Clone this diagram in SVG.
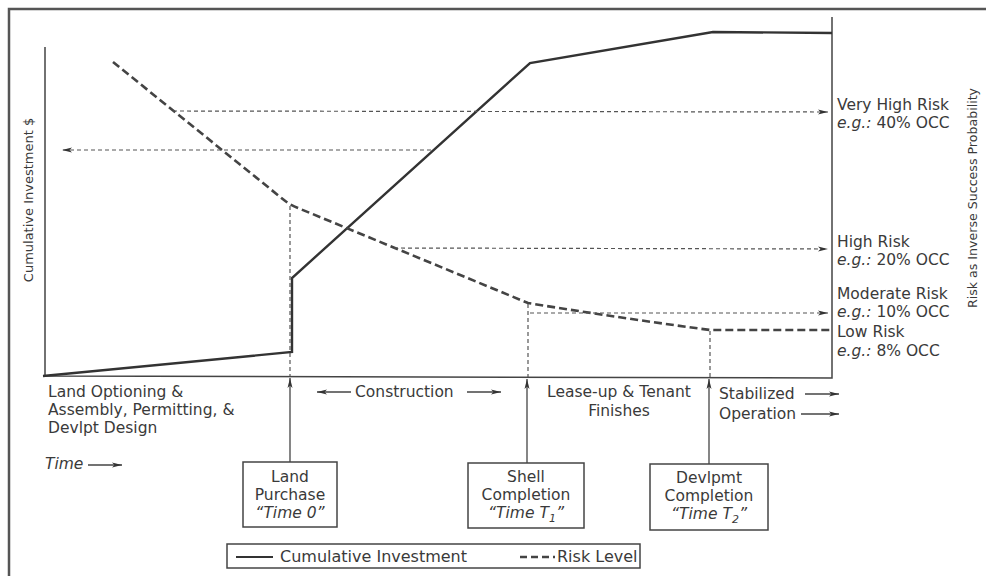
<svg xmlns="http://www.w3.org/2000/svg" width="986" height="576" viewBox="0 0 986 576">
<defs>
<marker id="ah" viewBox="0 0 10 6" refX="10" refY="3" markerWidth="10" markerHeight="6" markerUnits="userSpaceOnUse" orient="auto">
<path d="M0,0.5 L10,3 L0,5.5 L2.5,3 z" fill="#333"/>
</marker>
</defs>
<style>
text{font-family:"DejaVu Sans","Liberation Sans",sans-serif;fill:#3a3a3a;font-size:15.5px}
.c{text-anchor:middle}
.i{font-style:italic}
.axis{stroke:#444;stroke-width:1.5;fill:none}
.inv{stroke:#333;stroke-width:2.4;fill:none;stroke-linejoin:miter}
.risk{stroke:#444;stroke-width:2.6;fill:none;stroke-dasharray:8 4}
.dot{stroke:#555;stroke-width:1.2;fill:none;stroke-dasharray:4 3}
.arr{stroke:#444;stroke-width:1.3;fill:none}
.box{stroke:#444;stroke-width:1.5;fill:#fff}
</style>
<rect width="986" height="576" fill="#fff"/>
<path d="M9,576 L9,9 L986,9" stroke="#555" stroke-width="2.5" fill="none"/>

<g id="axes">
<path class="axis" d="M45,47 L45,376 L832,378 L832,17"/>
<text transform="translate(33,200) rotate(-90)" class="c" style="font-size:13px">Cumulative Investment $</text>
<text transform="translate(977,198) rotate(-90)" class="c" style="font-size:12.6px">Risk as Inverse Success Probability</text>
</g>

<g id="curves">
<path class="inv" d="M43,376 L292,352 L292,278 L530,63 L713,32 L832,33"/>
<path class="risk" d="M113,62 L284,200 Q290,205 298,208 L528,303 Q620,318 710,330 L832,330"/>
</g>

<g id="connectors">
<path class="dot" d="M173,111 L828,112" marker-end="url(#ah)"/>
<path class="dot" d="M431,150 L62,150" marker-end="url(#ah)"/>
<path class="dot" d="M394,248 L828,249" marker-end="url(#ah)"/>
<path class="dot" d="M530,313 L828,313" marker-end="url(#ah)"/>
<path class="dot" d="M290,206 L290,376"/>
<path class="dot" d="M528,304 L528,377"/>
<path class="dot" d="M710,331 L710,377"/>
<path class="arr" d="M290,462 L290,378" marker-end="url(#ah)"/>
<path class="arr" d="M527,463 L527,379" marker-end="url(#ah)"/>
<path class="arr" d="M709,464 L709,379" marker-end="url(#ah)"/>
<path class="arr" d="M88,465 L122,465" marker-end="url(#ah)"/>
<path class="arr" d="M351,392 L317,392" marker-end="url(#ah)"/>
<path class="arr" d="M467,392 L501,392" marker-end="url(#ah)"/>
<path class="arr" d="M805,394 L839,394" marker-end="url(#ah)"/>
<path class="arr" d="M801,414 L839,414" marker-end="url(#ah)"/>
</g>

<g id="risk-labels">
<text x="837" y="110">Very High Risk</text>
<text x="837" y="128"><tspan class="i">e.g.:</tspan> 40% OCC</text>
<text x="837" y="247">High Risk</text>
<text x="837" y="265"><tspan class="i">e.g.:</tspan> 20% OCC</text>
<text x="837" y="299">Moderate Risk</text>
<text x="837" y="317"><tspan class="i">e.g.:</tspan> 10% OCC</text>
<text x="837" y="337">Low Risk</text>
<text x="837" y="356"><tspan class="i">e.g.:</tspan> 8% OCC</text>
</g>

<g id="phase-labels">
<text x="48" y="397">Land Optioning &amp;</text>
<text x="48" y="415">Assembly, Permitting, &amp;</text>
<text x="48" y="433">Devlpt Design</text>
<text x="45" y="469" class="i">Time</text>
<text x="355" y="397">Construction</text>
<text x="619" y="397" class="c">Lease-up &amp; Tenant</text>
<text x="619" y="416" class="c">Finishes</text>
<text x="719" y="399">Stabilized</text>
<text x="719" y="419">Operation</text>
</g>

<g id="land-purchase">
<rect class="box" x="243" y="462" width="94" height="65"/>
<text x="290" y="482" class="c">Land</text>
<text x="290" y="500" class="c">Purchase</text>
<text x="290" y="518" class="c i">“Time 0”</text>
</g>

<g id="shell-completion">
<rect class="box" x="468" y="463" width="116" height="65"/>
<text x="526" y="482" class="c">Shell</text>
<text x="526" y="500" class="c">Completion</text>
<text x="526" y="518" class="c i">“Time T<tspan dy="4" style="font-size:11px">1</tspan><tspan dy="-4">”</tspan></text>
</g>

<g id="devlpmt-completion">
<rect class="box" x="650" y="464" width="118" height="66"/>
<text x="709" y="483" class="c">Devlpmt</text>
<text x="709" y="501" class="c">Completion</text>
<text x="709" y="519" class="c i">“Time T<tspan dy="4" style="font-size:11px">2</tspan><tspan dy="-4">”</tspan></text>
</g>

<g id="legend">
<rect class="box" x="227" y="544" width="413" height="24"/>
<path d="M236,557 L273,557" stroke="#333" stroke-width="2.2"/>
<text x="280" y="562" style="font-size:16px">Cumulative Investment</text>
<path d="M520,557 L555,557" stroke="#444" stroke-width="2.4" stroke-dasharray="7 4"/>
<text x="557" y="562" style="font-size:16px">Risk Level</text>
</g>
</svg>
